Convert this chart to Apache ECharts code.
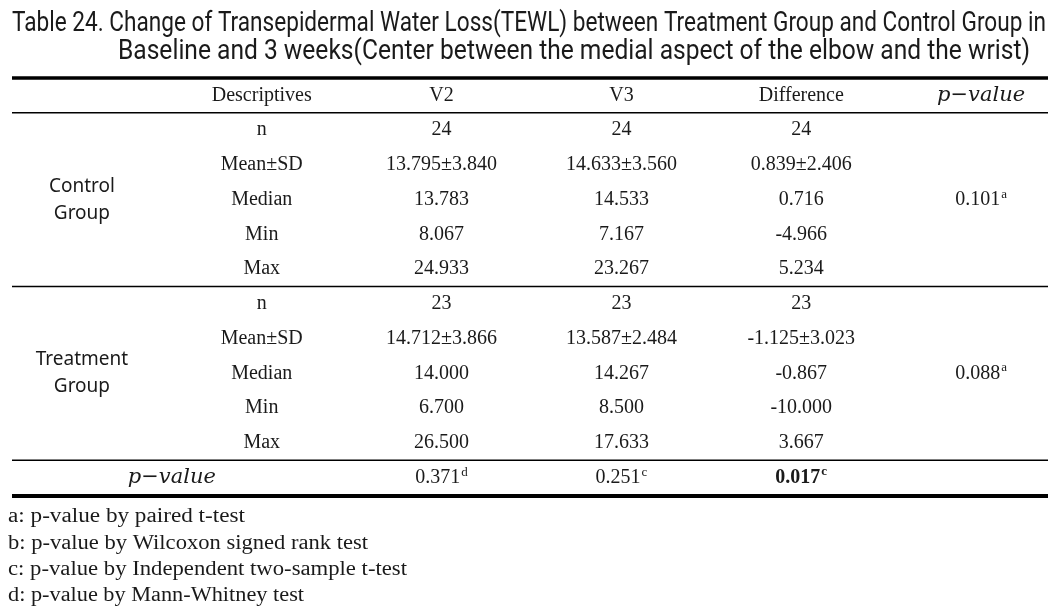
<!DOCTYPE html>
<html><head><meta charset="utf-8">
<script src="https://cdn.jsdelivr.net/npm/echarts@6/dist/echarts.min.js"></script>
<style>html,body{margin:0;padding:0;background:#fff}#c{width:1059px;height:616px}</style>
</head><body><div id="c"></div>
<script>
// ---------------- data ----------------
const titleLines = [
  'Table 24. Change of Transepidermal Water Loss(TEWL) between Treatment Group and Control Group in',
  'Baseline and 3 weeks(Center between the medial aspect of the elbow and the wrist)'
];
const columnKeys = ['Group', 'Descriptives', 'V2', 'V3', 'Difference', 'p−value'];
const rowKeys = ['header', 'c_n', 'c_mean', 'c_median', 'c_min', 'c_max',
                 't_n', 't_mean', 't_median', 't_min', 't_max', 'between'];
const groupNames = ['Control\nGroup', 'Treatment\nGroup'];
const statLabels = ['n', 'Mean±SD', 'Median', 'Min', 'Max'];
const controlV2 = ['24', '13.795±3.840', '13.783', '8.067', '24.933'];
const controlV3 = ['24', '14.633±3.560', '14.533', '7.167', '23.267'];
const controlDiff = ['24', '0.839±2.406', '0.716', '-4.966', '5.234'];
const controlP = ['0.101', 'a'];
const treatV2 = ['23', '14.712±3.866', '14.000', '6.700', '26.500'];
const treatV3 = ['23', '13.587±2.484', '14.267', '8.500', '17.633'];
const treatDiff = ['23', '-1.125±3.023', '-0.867', '-10.000', '3.667'];
const treatP = ['0.088', 'a'];
const betweenLabel = 'p−value';
const betweenP = [['0.371', 'd'], ['0.251', 'c'], ['0.017', 'c']];
const betweenBold = [false, false, true];
const footnotes = [
  'a: p-value by paired t-test',
  'b: p-value by Wilcoxon signed rank test',
  'c: p-value by Independent two-sample t-test',
  'd: p-value by Mann-Whitney test'
];

// ---------------- layout / style ----------------
const SERIF = '"Liberation Serif", "DejaVu Serif", serif';
const SANS = '"Noto Sans", Roboto, sans-serif';
const TITLE_FONT = '400 28px Roboto, "Noto Sans", sans-serif';
const INK = '#1a1a1a';
const titleLayout = [{x: 12, y: 24, w: 1034}, {x: 118, y: 52, w: 912}];
const footLayout = {x: 8, y0: 517, dy: 26.3, w: [237, 360, 399, 296], font: '400 20px ' + SERIF};

const ctx = document.createElement('canvas').getContext('2d');
function fitScale(text, font, w) { ctx.font = font; return w / ctx.measureText(text).width; }

// ---------------- cells ----------------
const cells = [];
const groupsData = [
  {name: groupNames[0], v2: controlV2, v3: controlV3, diff: controlDiff, p: controlP},
  {name: groupNames[1], v2: treatV2, v3: treatV3, diff: treatDiff, p: treatP}
];
for (let c = 1; c < columnKeys.length; c++) {
  cells.push({col: c, row: 0, text: columnKeys[c], italic: c === 5});
}
groupsData.forEach((g, gi) => {
  const r0 = 1 + gi * 5;
  cells.push({col: 0, row: r0 + 2, text: g.name, sans: true});
  statLabels.forEach((s, i) => {
    cells.push({col: 1, row: r0 + i, text: s});
    cells.push({col: 2, row: r0 + i, text: g.v2[i]});
    cells.push({col: 3, row: r0 + i, text: g.v3[i]});
    cells.push({col: 4, row: r0 + i, text: g.diff[i]});
  });
  cells.push({col: 5, row: r0 + 2, text: g.p[0], sup: g.p[1]});
});
cells.push({col: 0, row: 11, text: betweenLabel, italic: true, span: 1});
betweenP.forEach((p, i) => cells.push({col: 2 + i, row: 11, text: p[0], sup: p[1], bold: betweenBold[i]}));

const rules = [
  {row: 0, edge: -1, w: 3.5, off: 0},
  {row: 0, edge: 1, w: 1.3, off: 0},
  {row: 5, edge: 1, w: 1.3, off: 0},
  {row: 10, edge: 1, w: 1.3, off: 0},
  {row: 11, edge: 1, w: 4, off: 1}
];

function renderCell(params, api) {
  const c = cells[params.dataIndex];
  const p = api.coord([c.col, c.row]);
  let x = p[0];
  if (c.span) { x = (p[0] + api.coord([c.col + c.span, c.row])[0]) / 2; }
  const weight = c.bold ? 'bold' : 'normal';
  const style = {
    x: x, y: p[1], align: 'center', verticalAlign: 'middle',
    textAlign: 'center', textVerticalAlign: 'middle', fill: INK
  };
  if (c.sup) {
    style.text = '{v|' + c.text + '}{s|' + c.sup + '}';
    style.rich = {
      v: {fontSize: 20, fontFamily: SERIF, fontWeight: weight, fill: INK, color: INK, lineHeight: 24},
      s: {fontSize: 13, fontFamily: SERIF, fontWeight: weight, fill: INK, color: INK, verticalAlign: 'top', lineHeight: 24, padding: [0, 0, 0, 1]}
    };
  } else if (c.sans) {
    style.text = c.text;
    style.font = '400 19px ' + SANS;
    style.lineHeight = 27;
  } else if (c.italic) {
    style.text = c.text;
    style.font = 'italic 400 21px "DejaVu Serif", serif';
  } else {
    style.text = c.text;
    style.font = weight + ' 20px ' + SERIF;
  }
  return {type: 'text', style: style};
}

function renderRule(params, api) {
  const r = rules[params.dataIndex];
  const cs = params.coordSys;
  const y = api.coord([0, r.row])[1] + r.edge * api.size([0, 1])[1] / 2 + r.off;
  return {
    type: 'line',
    shape: {x1: cs.x + 20, y1: y, x2: cs.x + cs.width - 23, y2: y},
    style: {stroke: '#000', lineWidth: r.w}
  };
}

const graphics = [];
titleLines.forEach((t, i) => {
  const L = titleLayout[i];
  graphics.push({
    type: 'text', x: L.x, y: L.y, scaleX: fitScale(t, TITLE_FONT, L.w), scaleY: 1,
    style: {text: t, font: TITLE_FONT, fill: INK, align: 'left', verticalAlign: 'middle',
            textAlign: 'left', textVerticalAlign: 'middle'}
  });
});
footnotes.forEach((t, i) => {
  graphics.push({
    type: 'text', x: footLayout.x, y: footLayout.y0 + i * footLayout.dy,
    scaleX: fitScale(t, footLayout.font, footLayout.w[i]), scaleY: 1,
    style: {text: t, font: footLayout.font, fill: INK, align: 'left', verticalAlign: 'middle',
            textAlign: 'left', textVerticalAlign: 'middle'}
  });
});

const chart = echarts.init(document.getElementById('c'), null, {renderer: 'canvas'});
chart.setOption({
  backgroundColor: '#fff',
  animation: false,
  grid: {left: -8, width: 1079, top: 78, height: 417, outerBoundsMode: 'none', containLabel: false},
  xAxis: {type: 'category', data: columnKeys, show: false, boundaryGap: true},
  yAxis: {type: 'category', data: rowKeys, show: false, inverse: true, boundaryGap: true},
  graphic: graphics,
  series: [
    {type: 'custom', coordinateSystem: 'cartesian2d', renderItem: renderRule, clip: false,
     encode: {x: 0, y: 1}, data: rules.map(r => [0, r.row]), silent: true},
    {type: 'custom', coordinateSystem: 'cartesian2d', renderItem: renderCell, clip: false,
     encode: {x: 0, y: 1}, data: cells.map(c => [c.col, c.row]), silent: true}
  ]
});
</script></body></html>
